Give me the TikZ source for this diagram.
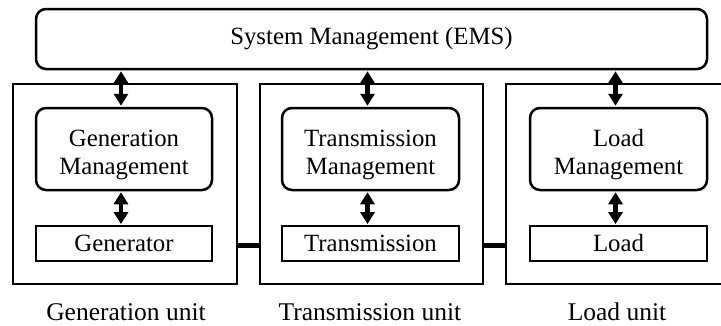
\documentclass[tikz,border=0pt]{standalone}
\usepackage{fontspec}
\setmainfont{Liberation Serif}
\usetikzlibrary{arrows.meta}
\begin{document}
\begin{tikzpicture}[x=1pt,y=-1pt,
  every node/.style={inner sep=0pt, font=\fontsize{24.8}{28}\selectfont},
  unitbox/.style={draw, line width=1.3pt, minimum width=#1, minimum height=200},
  mgmt/.style={draw, line width=2.5pt, rounded corners=10pt, minimum width=#1, minimum height=82},
  mtext/.style={align=center},
  dev/.style={draw, line width=1.8pt, minimum width=#1, minimum height=35},
  biarr/.style={line width=4.2pt, {Triangle[width=14pt,length=12pt]}-{Triangle[width=14pt,length=12pt]}, shorten <=1pt, shorten >=1pt},
  link/.style={line width=5pt},
  lbl/.style={font=\fontsize{25.5}{28}\selectfont}]
\clip (0,0) rectangle (721,325);
\useasboundingbox (0,0) rectangle (721,325);
\node[draw, line width=2.5pt, rounded corners=10pt, minimum width=671, minimum height=60] (ems) at (371.5,39) {System Management (EMS)};
% unit frames
\node[unitbox=224] (genu) at (125,184) {};
\node[unitbox=223] (tranu) at (371.5,184) {};
\node[unitbox=226] (loadu) at (619,184) {};
% management boxes
\node[mgmt=176] (genm) at (124,149) {};
\node[mgmt=177] (tranm) at (370.5,149) {};
\node[mgmt=177] (loadm) at (618.5,149) {};
\node[mtext] (genmt) at ([yshift=-6pt]genm.center) {Generation\\Management};
\node[mtext] (tranmt) at ([yshift=-6pt]tranm.center) {Transmission\\Management};
\node[mtext] (loadmt) at ([yshift=-6pt]loadm.center) {Load\\Management};
% devices
\node[dev=176] (gend) at (124,243.5) {Generator};
\node[dev=177] (trand) at (370.5,243.5) {Transmission};
\node[dev=177] (loadd) at (618.5,243.5) {Load};
% arrows
\draw[biarr] ([xshift=-3pt]genm.north) -- ([xshift=-3pt]genm.north |- ems.south);
\draw[biarr] ([xshift=-3pt]tranm.north) -- ([xshift=-3pt]tranm.north |- ems.south);
\draw[biarr] ([xshift=-3pt]loadm.north) -- ([xshift=-3pt]loadm.north |- ems.south);
\draw[biarr] ([xshift=-3pt]genm.south) -- ([xshift=-3pt]gend.north);
\draw[biarr] ([xshift=-3pt]tranm.south) -- ([xshift=-3pt]trand.north);
\draw[biarr] ([xshift=-3pt]loadm.south) -- ([xshift=-3pt]loadd.north);
% links
\draw[link] ([yshift=-1.5pt]genu.east |- gend.center) -- ([yshift=-1.5pt]tranu.west |- gend.center);
\draw[link] ([yshift=-1.5pt]tranu.east |- trand.center) -- ([yshift=-1.5pt]loadu.west |- trand.center);
% labels
\node[lbl] (genl) at (126,312) {Generation unit};
\node[lbl] (tranl) at (370,312) {Transmission unit};
\node[lbl] (loadl) at (617,312) {Load unit};
\end{tikzpicture}
\end{document}
